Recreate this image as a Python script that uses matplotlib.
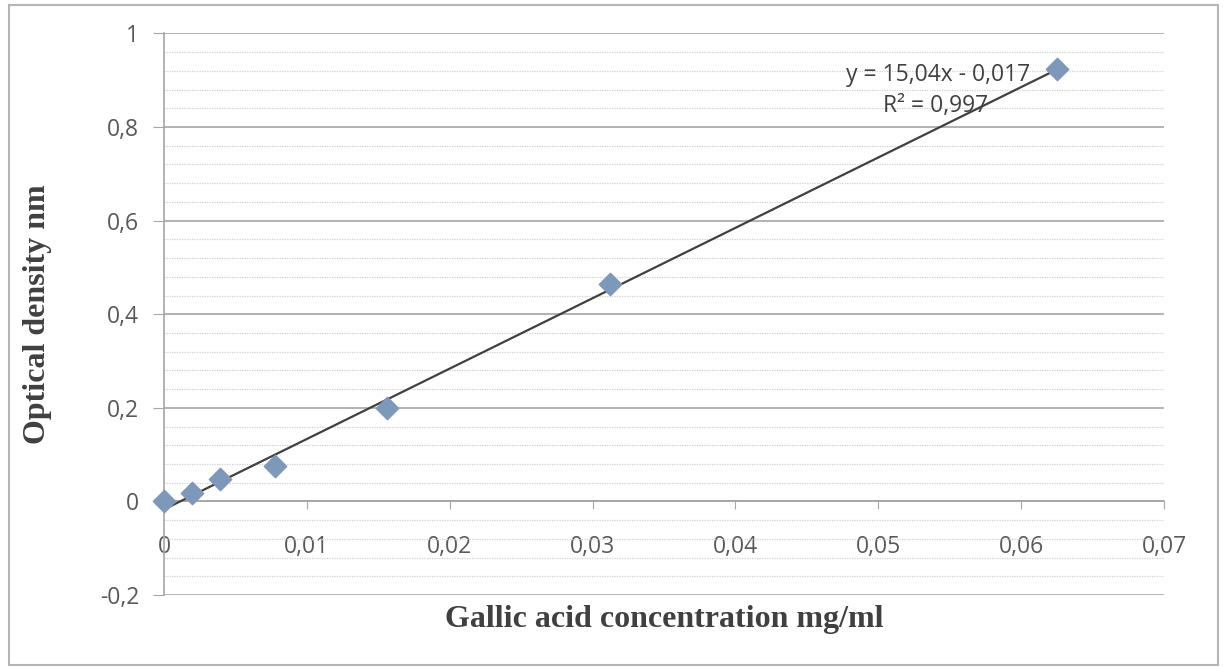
import matplotlib
matplotlib.use("Agg")
import matplotlib.pyplot as plt
import numpy as np
from matplotlib.ticker import MultipleLocator, FuncFormatter
from matplotlib.patches import Rectangle

conc = [0.0, 0.00195, 0.0039, 0.0078, 0.0156, 0.03125, 0.0625]
od = [0.0, 0.018, 0.048, 0.075, 0.200, 0.465, 0.925]
slope = 15.04
intercept = -0.017
eq_text = "y = 15,04x - 0,017"
r2_text = "R² = 0,997"
xlabel = "Gallic acid concentration mg/ml"
ylabel = "Optical density nm"

fig = plt.figure(figsize=(12.24, 6.68), dpi=100)
ax = fig.add_axes([0.134, 0.1093, 0.817, 0.8406])

tick_font = "Open Sans"
txtcol = "#595959"

ax.set_xlim(0, 0.07)
ax.set_ylim(-0.2, 1.0)
ax.xaxis.set_major_locator(MultipleLocator(0.01))
ax.yaxis.set_major_locator(MultipleLocator(0.2))
ax.yaxis.set_minor_locator(MultipleLocator(0.04))

def fmt(v, pos):
    s = ("%.2f" % v).rstrip("0").rstrip(".")
    if abs(v) < 1e-12:
        s = "0"
    return s.replace(".", ",")

ax.xaxis.set_major_formatter(FuncFormatter(fmt))
ax.yaxis.set_major_formatter(FuncFormatter(fmt))

ax.grid(True, which="major", axis="y", color="#a6a6a6", linewidth=1.2)
ax.grid(True, which="minor", axis="y", color="#d0d0d0", linewidth=0.9, linestyle=(0, (1, 1)))
ax.set_axisbelow(True)

for s in ["top", "right"]:
    ax.spines[s].set_visible(False)
ax.spines["bottom"].set_position(("data", 0))
ax.spines["bottom"].set_color("#a6a6a6")
ax.spines["left"].set_color("#a6a6a6")
ax.spines["bottom"].set_linewidth(1.2)
ax.spines["left"].set_linewidth(1.2)

ax.tick_params(axis="x", which="major", direction="out", length=6, color="#a6a6a6",
               pad=18, labelsize=16.5, labelcolor=txtcol)
ax.tick_params(axis="y", which="major", direction="out", length=8, color="#a6a6a6",
               pad=10, labelsize=16.5, labelcolor=txtcol)
ax.tick_params(axis="y", which="minor", length=0)
for lab in ax.get_xticklabels() + ax.get_yticklabels():
    lab.set_fontfamily(tick_font)

# trend line
xl = np.array([0, max(conc)])
ax.plot(xl, slope * xl + intercept, color="#404040", linewidth=1.6, zorder=3)
ax.scatter(conc, od, marker="D", s=130, color="#7d98b8", zorder=4, clip_on=False)

ax.text(0.0542, 0.912, eq_text, ha="center", va="center", fontsize=16.5,
        fontfamily=tick_font, color="#404040")
ax.text(0.0540, 0.846, r2_text, ha="center", va="center", fontsize=16.5,
        fontfamily=tick_font, color="#404040")

fig.text(0.543, 0.072, xlabel, ha="center", va="center", fontsize=23,
         fontweight="bold", fontfamily="Liberation Serif", color="#404040")
fig.text(0.031, 0.53, ylabel, ha="center", va="center", rotation=90, fontsize=23,
         fontweight="bold", fontfamily="Liberation Serif", color="#404040")

fig.patches.append(Rectangle((0.007, 0.005), 0.988, 0.988, transform=fig.transFigure,
                             fill=False, edgecolor="#b5b5b5", linewidth=1.5))

fig.savefig("out.png", dpi=100)
